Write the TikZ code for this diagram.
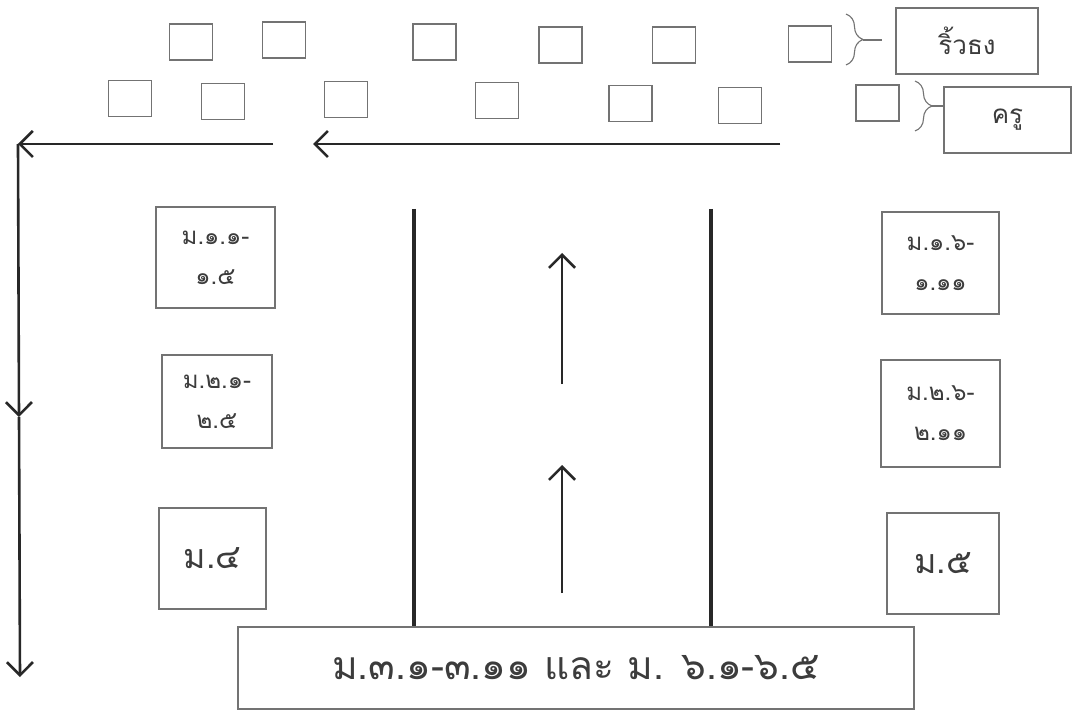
\documentclass[tikz,border=0pt]{standalone}
\usepackage{fontspec}
\newfontfamily\thai[Script=Thai]{Loma}
\usetikzlibrary{arrows.meta,decorations.pathreplacing}
\definecolor{ink}{RGB}{40,40,40}
\definecolor{txt}{RGB}{60,60,60}
\definecolor{frame}{RGB}{115,115,115}
\begin{document}
\begin{tikzpicture}[x=1pt,y=-1pt,
  seat/.style={draw=frame,line width=1.8pt,minimum width=43pt,minimum height=36pt,inner sep=0pt},
  lbl/.style={draw=frame,line width=1.8pt,inner sep=0pt,text=txt,align=center},
  small/.style={font=\thai\fontsize{24}{40}\selectfont},
  mid/.style={font=\thai\fontsize{34}{40}\selectfont},
  big/.style={font=\thai\fontsize{39}{44}\selectfont},
  flow/.style={draw=ink,line width=2.6pt,-{Straight Barb[length=13pt,width=26pt]}},
  road/.style={draw=ink,line width=3.4pt},
  bracestyle/.style={draw=frame,line width=1.1pt,decorate,decoration={brace,amplitude=17pt}},
  tie/.style={draw=frame,line width=1.1pt}]
\useasboundingbox (0,0) rectangle (1074,711);
\fill[white] (0,0) rectangle (1074,711);
% seats, top row
\node[seat] (t1) at (191,42) {};
\node[seat] (t2) at (284,40) {};
\node[seat] (t3) at (434.5,42) {};
\node[seat] (t4) at (560.5,45) {};
\node[seat] (t5) at (674,45) {};
\node[seat] (t6) at (810,44) {};
% seats, second row
\node[seat] (r1) at (130,98.5) {};
\node[seat] (r2) at (223,101.5) {};
\node[seat] (r3) at (346,99.5) {};
\node[seat] (r4) at (497,100.5) {};
\node[seat] (r5) at (630.5,103.5) {};
\node[seat] (r6) at (740,105.5) {};
\node[seat] (r7) at (877.5,103) {};
% legend boxes
\node[lbl,font=\thai\fontsize{26}{30}\selectfont,minimum width=142pt,minimum height=66pt] (flag) at (967,41) {ริ้วธง};
\node[lbl,font=\thai\fontsize{26}{30}\selectfont,minimum width=127pt,minimum height=66pt] (teach) at (1007.5,120) {ครู};
% braces
\coordinate (b1a) at (846,14); \coordinate (b1b) at (846,65);
\draw[bracestyle] (b1a) -- (b1b);
\coordinate (b1t) at (863,40); \coordinate (b1e) at (882,40);
\draw[tie] (b1t) -- (b1e);
\coordinate (b2a) at (915,81); \coordinate (b2b) at (915,131);
\draw[bracestyle] (b2a) -- (b2b);
\coordinate (b2t) at (932,106); \coordinate (b2e) at (944,106);
\draw[tie] (b2t) -- (b2e);
% class boxes
\node[lbl,small,minimum width=119pt,minimum height=101pt] (m11) at (215.5,257.5) {ม.๑.๑-\\๑.๕};
\node[lbl,small,minimum width=110pt,minimum height=93pt] (m21) at (217,401.5) {ม.๒.๑-\\๒.๕};
\node[lbl,mid,minimum width=107pt,minimum height=101pt] (m4) at (212.5,558.5) {ม.๔};
\node[lbl,small,minimum width=117pt,minimum height=102pt] (m16) at (940.5,263) {ม.๑.๖-\\๑.๑๑};
\node[lbl,small,minimum width=119pt,minimum height=107pt] (m26) at (940.5,413.5) {ม.๒.๖-\\๒.๑๑};
\node[lbl,mid,minimum width=112pt,minimum height=101pt] (m5) at (943,563.5) {ม.๕};
\node[lbl,big,minimum width=676pt,minimum height=82pt] (m3) at (576,668) {ม.๓.๑-๓.๑๑ และ ม. ๖.๑-๖.๕};
% walkway arrows
\coordinate (h1s) at (273,144); \coordinate (corner) at (18,144);
\draw[flow] (h1s) -- (corner);
\coordinate (h2s) at (780,144); \coordinate (h2e) at (313,144);
\draw[flow] (h2s) -- (h2e);
\coordinate (v1) at (19,417); \coordinate (v2) at (20,677);
\draw[flow] (corner) -- (v1);
\draw[flow] (v1) -- (v2);
% road
\coordinate (rl) at (414,209); \coordinate (rr) at (711,209);
\draw[road] (rl) -- (rl |- m3.north);
\draw[road] (rr) -- (rr |- m3.north);
\coordinate (a1s) at (562,384); \coordinate (a1e) at (562,253);
\coordinate (a2s) at (562,593); \coordinate (a2e) at (562,465);
\draw[flow] (a1s) -- (a1e);
\draw[flow] (a2s) -- (a2e);
\end{tikzpicture}
\end{document}
